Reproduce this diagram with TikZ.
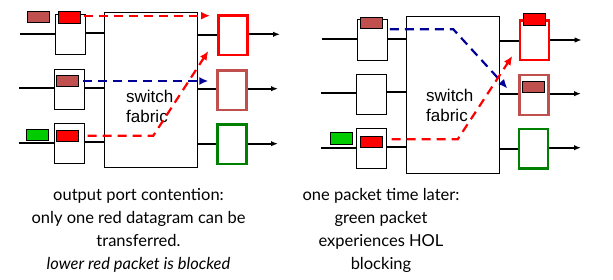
\documentclass[tikz,border=0pt]{standalone}
\usepackage{fontspec}
\setmainfont{Lato}
\newfontfamily\arialfont{Liberation Sans}
\usetikzlibrary{arrows.meta}
\definecolor{pktred}{HTML}{FF0000}
\definecolor{pktbrown}{HTML}{C0504D}
\definecolor{pktgreen}{HTML}{00CC00}
\definecolor{outgreen}{HTML}{008000}
\definecolor{flowblue}{HTML}{000099}
\tikzset{
  inbuf/.style={draw=black, line width=0.9pt, fill=white, minimum width=30pt, minimum height=40pt, inner sep=0pt},
  outbuf/.style={draw=#1, line width=2.2pt, fill=white, minimum width=29pt, minimum height=39.5pt, inner sep=0pt},
  fabric/.style={draw=black, line width=0.9pt, fill=white, minimum width=93pt, inner sep=0pt},
  pkt/.style={draw=black, line width=0.7pt, fill=#1, minimum width=22pt, minimum height=11pt, inner sep=0pt},
  wire/.style={line width=1.8pt, draw=black},
  outwire/.style={wire, -{Latex[length=7pt,width=5.5pt]}},
  flow/.style={draw=#1, line width=2.2pt, dash pattern=on 9pt off 6pt, -{Latex[length=9pt,width=8pt]}},
  fabtext/.style={font=\arialfont\fontsize{17}{20.5}\selectfont, align=left, inner sep=0pt},
  caption/.style={font=\fontsize{16.5}{23}\selectfont, align=center, inner sep=0pt}
}
\begin{document}
\begin{tikzpicture}[x=1pt,y=-1pt]
\useasboundingbox (0,0) rectangle (613,280);

% ---------- first switch ----------
\node[fabric, minimum height=155.4pt] (fabL) at (150.8,90) {};
\node[fabtext, anchor=north west] (fabLtxt) at (126,89.6) {switch\\fabric};

\node[inbuf] (ibL1) at (70.3,34.7) {};
\node[inbuf] (ibL2) at (69.3,89.3) {};
\node[inbuf] (ibL3) at (69.3,143.5) {};

\node[outbuf=pktred] (obL1) at (233,35.2) {};
\node[outbuf=pktbrown] (obL2) at (232,90.2) {};
\node[outbuf=outgreen] (obL3) at (232,144.3) {};

\coordinate (inL1) at (20,34.3);
\coordinate (inL2) at (19,87.7);
\coordinate (inL3) at (19,142.7);
\draw[wire] (inL1) -- (inL1 -| ibL1.west);
\draw[wire] (inL2) -- (inL2 -| ibL2.west);
\draw[wire] (inL3) -- (inL3 -| ibL3.west);
\draw[wire] (ibL1.east |- 0,33.3) -- (fabL.west |- 0,33.3);
\draw[wire] (ibL2.east |- inL2) -- (fabL.west |- inL2);
\draw[wire] (ibL3.east |- 0,141.7) -- (fabL.west |- 0,141.7);
\draw[wire] (fabL.east |- obL1.west) -- (obL1.west);
\draw[wire] (fabL.east |- 0,88.7) -- (obL2.west |- 0,88.7);
\draw[wire] (fabL.east |- 0,143.7) -- (obL3.west |- 0,143.7);

\coordinate (outL1) at (280,34.3);
\coordinate (outL2) at (278,88.7);
\coordinate (outL3) at (278,143.7);
\draw[outwire] (obL1.east |- outL1) -- (outL1);
\draw[outwire] (obL2.east |- outL2) -- (outL2);
\draw[outwire] (obL3.east |- outL3) -- (outL3);

\node[pkt=pktbrown] (pL1a) at (38.3,17) {};
\node[pkt=pktred, minimum height=12pt] (pL1b) at (69.3,17.2) {};
\node[pkt=pktbrown] (pL2) at (67.8,80.8) {};
\node[pkt=pktgreen, minimum height=10.4pt] (pL3a) at (37.3,134.8) {};
\node[pkt=pktred] (pL3b) at (67.3,135.7) {};

\coordinate (tL1) at (210,15.7);
\coordinate (tL2) at (208.3,81);
\coordinate (kL3) at (153.3,135.7);
\coordinate (tL3) at (208.3,51);
\draw[flow=pktred] ([xshift=3pt]pL1b.east |- tL1) -- (tL1);
\draw[flow=flowblue] ([xshift=4pt]pL2.east |- tL2) -- (tL2);
\draw[flow=pktred] ([xshift=9pt]pL3b.east |- kL3) -- (kL3) -- (tL3);

% ---------- second switch ----------
\node[fabric, minimum height=157.3pt] (fabR) at (452.8,94.7) {};
\node[fabtext, anchor=north west] (fabRtxt) at (426,88.6) {switch\\fabric};

\node[inbuf, minimum height=41pt] (ibR1) at (372.3,39.8) {};
\node[inbuf] (ibR2) at (371.3,94.3) {};
\node[inbuf] (ibR3) at (371.3,148.3) {};

\node[outbuf=pktred] (obR1) at (534.8,40.3) {};
\node[outbuf=pktbrown] (obR2) at (534,95) {};
\node[outbuf=outgreen] (obR3) at (533.5,148.8) {};

\coordinate (inR1) at (322,39);
\coordinate (inR2) at (321,92.7);
\coordinate (inR3) at (321,147.7);
\draw[wire] (inR1) -- (inR1 -| ibR1.west);
\draw[wire] (inR2) -- (inR2 -| ibR2.west);
\draw[wire] (inR3) -- (inR3 -| ibR3.west);
\draw[wire] (ibR1.east |- inR1) -- (fabR.west |- inR1);
\draw[wire] (ibR2.east |- 0,91.7) -- (fabR.west |- 0,91.7);
\draw[wire] (ibR3.east |- 0,146.7) -- (fabR.west |- 0,146.7);
\draw[wire] (fabR.east |- 0,41) -- (obR1.west |- 0,41);
\draw[wire] (fabR.east |- 0,93.7) -- (obR2.west |- 0,93.7);
\draw[wire] (fabR.east |- 0,148.7) -- (obR3.west |- 0,148.7);

\coordinate (outR1) at (581.7,40);
\coordinate (outR2) at (581,93.7);
\coordinate (outR3) at (581,147.7);
\draw[outwire] (obR1.east |- outR1) -- (outR1);
\draw[outwire] (obR2.east |- outR2) -- (outR2);
\draw[outwire] (obR3.east |- outR3) -- (outR3);

\node[pkt=pktbrown] (pR1) at (371.5,22.8) {};
\node[pkt=pktgreen, minimum height=12pt] (pR3a) at (341.5,138.3) {};
\node[pkt=pktred] (pR3b) at (371.3,141.7) {};
\node[pkt=pktred, minimum height=12pt] (pRo1) at (534.3,19.3) {};
\node[pkt=pktbrown] (pRo2) at (533.3,86.8) {};

\coordinate (kR1) at (453.3,29.3);
\coordinate (tR1) at (507.3,88.3);
\coordinate (kR3) at (457.7,139.3);
\coordinate (tR3) at (512.3,56);
\draw[flow=flowblue] ([xshift=7pt]pR1.east |- kR1) -- (kR1) -- (tR1);
\draw[flow=pktred] ([xshift=9pt]pR3b.east |- kR3) -- (kR3) -- (tR3);

% ---------- captions ----------
\node[caption, anchor=north] (capL) at (138.5,188.5)
  {output port contention:\\only one red datagram can be\\transferred.\\\textit{lower red packet is blocked}};
\node[caption, anchor=north] (capR) at (381,188.5)
  {one packet time later:\\green packet\\experiences HOL\\blocking};
\end{tikzpicture}
\end{document}
